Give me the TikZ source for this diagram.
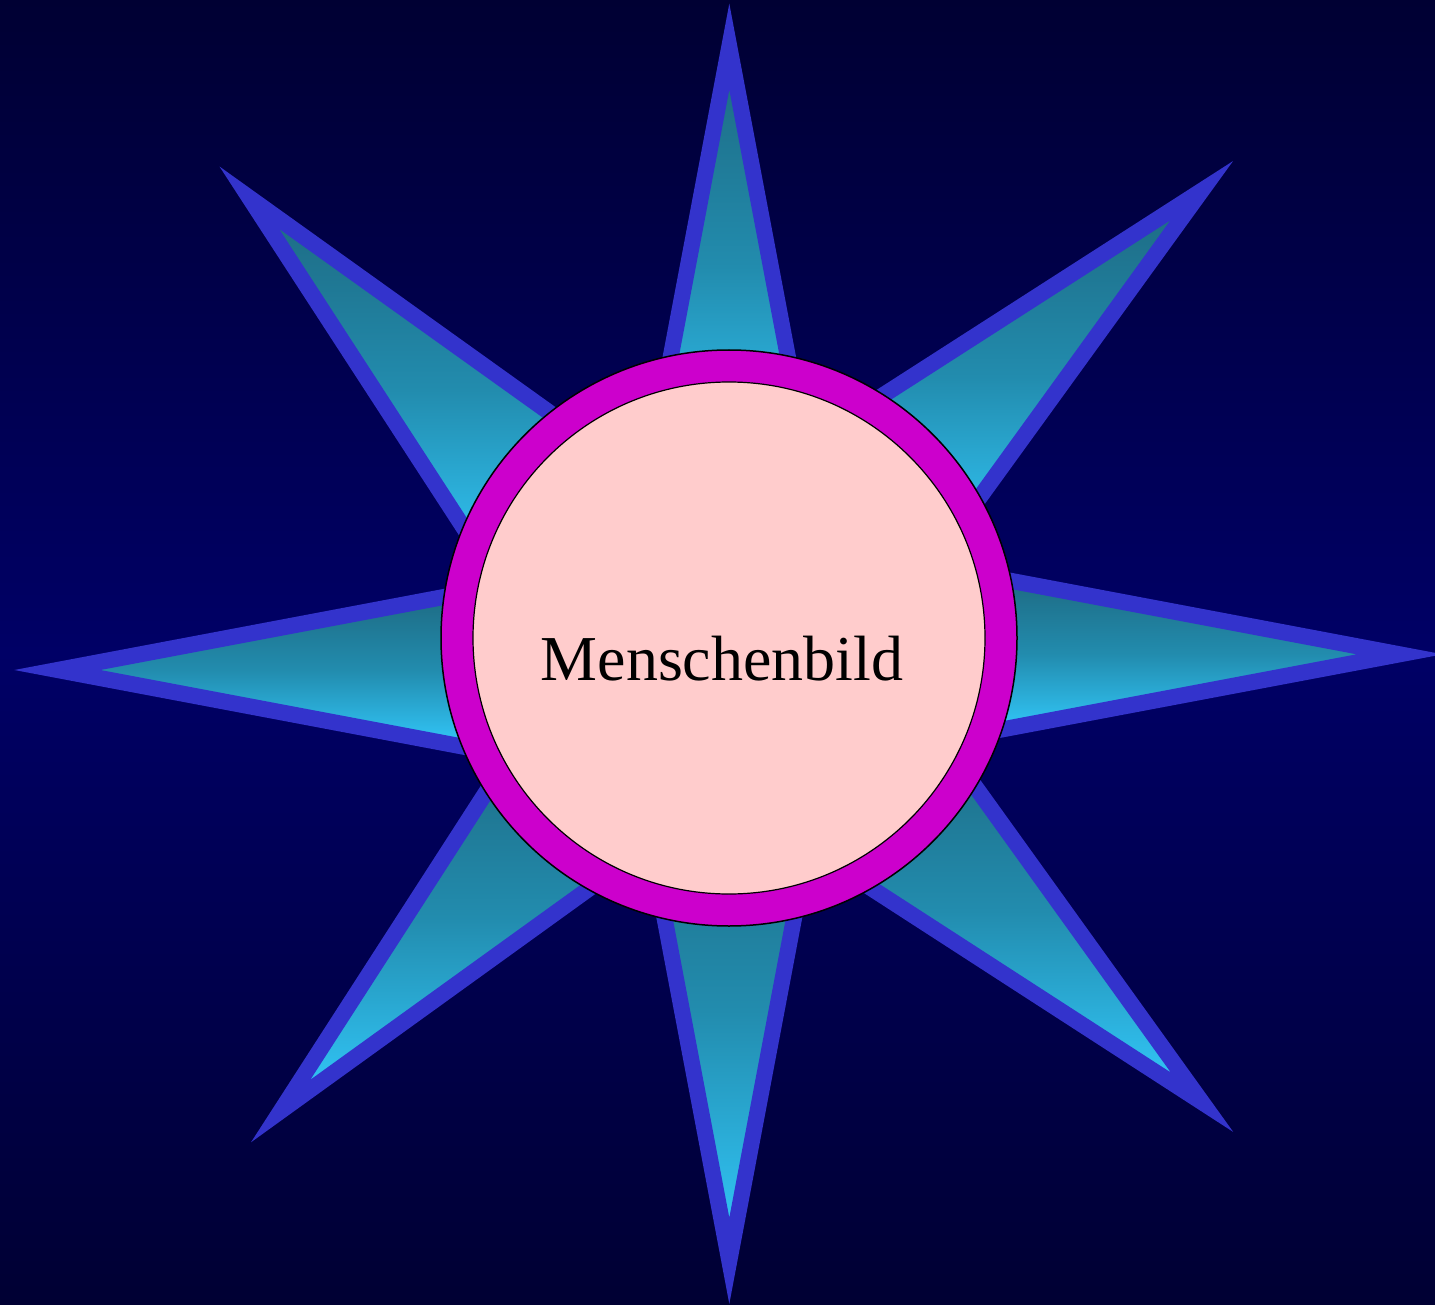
\documentclass[tikz,border=0pt]{standalone}
\usepackage{fontspec}
\setmainfont{Liberation Serif}
\usetikzlibrary{calc}
\definecolor{bgtop}{HTML}{000033}
\definecolor{bgmid}{HTML}{000066}
\definecolor{spikeline}{HTML}{3333CC}
\definecolor{spiketop}{HTML}{1D6880}
\definecolor{spikemid}{HTML}{228CAE}
\definecolor{spikebot}{HTML}{33CCFF}
\definecolor{ringcol}{HTML}{CC00CC}
\definecolor{corecol}{HTML}{FFCCCC}
\tikzset{
  spikeshape/.style={draw=spikeline, line width=16pt, line join=miter,
    top color=spiketop, bottom color=spikebot, middle color=spikemid},
  ringshape/.style={circle, draw=black, line width=1.5pt, fill=ringcol,
    minimum size=576pt, inner sep=0pt},
  coreshape/.style={circle, draw=black, line width=1.2pt, fill=corecol,
    minimum size=512pt, inner sep=0pt},
}
% #1 name, #2 tip, #3 axis angle (image coords), #4 length
\newcommand\mkspike[4]{%
  \coordinate (#1t) at #2;
  \coordinate (#1a) at ($(#1t)+({#3+10.7}:{#4/cos(10.7)})$);
  \coordinate (#1b) at ($(#1t)+({#3-10.7}:{#4/cos(10.7)})$);
  \path[spikeshape] (#1t) -- (#1a) -- (#1b) -- cycle;
}
\begin{document}
\begin{tikzpicture}[x=1pt,y=-1pt]
\useasboundingbox (0,0) rectangle (1435,1305);
\clip (0,0) rectangle (1435,1305);
\shade[top color=bgtop, bottom color=bgtop, middle color=bgmid] (0,0) rectangle (1435,1305);
\mkspike{top}{(729.3,46.7)}{90}{441}
\mkspike{bot}{(729.3,1260.8)}{-90}{500}
\mkspike{lft}{(57.4,670)}{0}{432}
\mkspike{rgt}{(1399.7,654.3)}{180}{431}
\mkspike{ul}{(249.3,197.7)}{46.3}{451}
\mkspike{ur}{(1201.7,190.7)}{136.6}{451}
\mkspike{ll}{(280.7,1111)}{-46.5}{452}
\mkspike{lr}{(1202,1102.2)}{223.6}{463}
\node[ringshape] (ring) at (729,638) {};
\node[coreshape] (core) at (729,638) {};
\node[font=\fontsize{64}{72}\selectfont, anchor=base, inner sep=0pt] (label) at (722,680) {Menschenbild};
\end{tikzpicture}
\end{document}
